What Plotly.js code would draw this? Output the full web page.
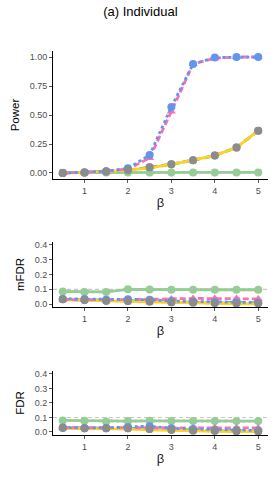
<!DOCTYPE html>
<html><head><meta charset="utf-8">
<script src="https://cdn.plot.ly/plotly-3.0.1.min.js"></script>
<style>html,body{margin:0;padding:0;background:#fff}#c{width:280px;height:480px}</style>
</head><body><div id="c"></div>
<script>
const beta = [0.5,1,1.5,2,2.5,3,3.5,4,4.5,5];
const xTicks = [1,2,3,4,5];
const powerTicks = [0,0.25,0.5,0.75,1];
const powerTickText = ["0.00","0.25","0.50","0.75","1.00"];
const rateTicks = [0,0.1,0.2,0.3,0.4];
const rateTickText = ["0.0","0.1","0.2","0.3","0.4"];
const target = 0.1;

// Power
const pinkP   = [0,0.005,0.015,0.035,0.13,0.53,0.94,0.99,1.0,1.0];
const blueP   = [0,0.005,0.015,0.04,0.155,0.57,0.94,0.995,1.0,1.0];
const yellowP = [0,0.005,0.012,0.025,0.045,0.075,0.11,0.15,0.22,0.365];
const cyanP   = [0,0.005,0.012,0.025,0.045,0.075,0.11,0.15,0.22,0.365];
const grayP   = [0,0.005,0.013,0.025,0.05,0.075,0.11,0.15,0.22,0.365];
const greenP  = [0.003,0.004,0.004,0.005,0.005,0.005,0.005,0.005,0.005,0.005];
const salmonP = [0.003,0.004,0.004,0.005,0.005,0.005,0.005,0.005,0.005,0.005];

// mFDR
const pinkM   = [0.03,0.032,0.03,0.03,0.03,0.035,0.038,0.038,0.038,0.035];
const blueM   = [0.035,0.035,0.03,0.032,0.03,0.02,0.018,0.015,0.012,0.01];
const yellowM = [0.028,0.025,0.02,0.018,0.012,0.008,0.005,0.004,0.002,0.001];
const cyanM   = [0.03,0.028,0.025,0.022,0.02,0.015,0.012,0.01,0.012,0.008];
const grayM   = [0.032,0.028,0.022,0.02,0.018,0.012,0.01,0.008,0.006,0.006];
const greenM  = [0.085,0.082,0.082,0.1,0.098,0.097,0.097,0.097,0.097,0.097];
const salmonM = [0.085,0.082,0.082,0.1,0.098,0.097,0.097,0.097,0.097,0.097];

// FDR
const pinkF   = [0.03,0.03,0.028,0.03,0.032,0.03,0.03,0.03,0.03,0.028];
const blueF   = [0.03,0.028,0.028,0.035,0.04,0.025,0.02,0.015,0.012,0.01];
const yellowF = [0.025,0.025,0.022,0.02,0.015,0.01,0.006,0.004,0.003,0.002];
const cyanF   = [0.028,0.026,0.025,0.025,0.022,0.015,0.012,0.01,0.008,0.006];
const grayF   = [0.03,0.026,0.025,0.025,0.02,0.015,0.01,0.008,0.006,0.005];
const greenF  = [0.08,0.078,0.072,0.075,0.077,0.076,0.075,0.075,0.075,0.075];
const salmonF = [0.08,0.078,0.072,0.075,0.077,0.076,0.075,0.075,0.075,0.075];

const styles = [
  {key:'salmon', color:'#F5A9A9', dash:'2px,4px', sym:'triangle-up', ms:7},
  {key:'green',  color:'#96CC96', dash:'solid', sym:'circle', ms:8},
  {key:'gray',   color:'#8C8C8C', dash:'7px,4px', sym:'circle', ms:8},
  {key:'cyan',   color:'#1EC3F0', dash:'5px,6px', sym:null, ms:0},
  {key:'yellow', color:'#FFD21E', dash:'solid', sym:'triangle-up', ms:6},
  {key:'pink',   color:'#FF6EB4', dash:'6px,3px', sym:'triangle-up', ms:8},
  {key:'blue',   color:'#6495ED', dash:'3px,3px', sym:'circle', ms:8}
];
const panels = [
  {xa:'x', ya:'y', d:{salmon:salmonP,green:greenP,cyan:cyanP,yellow:yellowP,gray:grayP,pink:pinkP,blue:blueP}},
  {xa:'x2', ya:'y2', d:{salmon:salmonM,green:greenM,cyan:cyanM,yellow:yellowM,gray:grayM,pink:pinkM,blue:blueM}},
  {xa:'x3', ya:'y3', d:{salmon:salmonF,green:greenF,cyan:cyanF,yellow:yellowF,gray:grayF,pink:pinkF,blue:blueF}}
];
const traces = [];
panels.forEach(p => {
  styles.forEach(s => {
    traces.push({
      x: beta, y: p.d[s.key], xaxis: p.xa, yaxis: p.ya,
      type:'scatter', mode: s.sym ? 'lines+markers' : 'lines',
      line:{color:s.color, width:2.8, dash:s.dash},
      marker:{color:s.color, size:s.ms || 1, symbol:s.sym || 'circle'},
      showlegend:false, hoverinfo:'skip'
    });
  });
  traces.push({
    x: beta, y: p.d.gray, xaxis: p.xa, yaxis: p.ya, type:'scatter', mode:'markers',
    marker:{color:'#8C8C8C', size:8, symbol:'circle'}, showlegend:false, hoverinfo:'skip'
  });
});

const font = {family:'Liberation Sans, Arial, sans-serif'};
function xax(anchor){
  return {anchor:anchor, range:[0.275,5.225], tickvals:xTicks, ticks:'outside', ticklen:3, tickwidth:0.8,
    tickcolor:'#333', showline:true, linecolor:'#000', linewidth:1, showgrid:false, zeroline:false,
    tickfont:{size:9, color:'#4d4d4d', family:font.family},
    title:{text:'β', font:{size:13, color:'#222', family:font.family}, standoff:3}};
}
function yax(anchor, dom, range, tv, tt, title){
  return {anchor:anchor, domain:dom, range:range, tickvals:tv, ticktext:tt, ticks:'outside', ticklen:3, tickwidth:0.8,
    tickcolor:'#333', showline:true, linecolor:'#000', linewidth:1, showgrid:false, zeroline:false,
    tickfont:{size:9, color:'#4d4d4d', family:font.family},
    title:{text:title, font:{size:11.5, color:'#000', family:font.family}, standoff:7}};
}
const layout = {
  width:280, height:480, margin:{l:52.5, r:12.2, t:0, b:0},
  paper_bgcolor:'#fff', plot_bgcolor:'#fff', font:font,
  title:{text:'(a) Individual', x:(140-52.5)/(280-52.5-12.2), xanchor:'center', y:1-11/480, yanchor:'middle', xref:'paper',
    font:{size:13, color:'#000', family:font.family}},
  xaxis: xax('y'), xaxis2: xax('y2'), xaxis3: xax('y3'),
  yaxis: yax('x', [0.6275,0.8933], [-0.05,1.05], powerTicks, powerTickText, 'Power'),
  yaxis2: yax('x2', [0.3604,0.4958], [-0.02,0.42], rateTicks, rateTickText, 'mFDR'),
  yaxis3: yax('x3', [0.0940,0.2269], [-0.02,0.42], rateTicks, rateTickText, 'FDR'),
  shapes:[
    {type:'line', xref:'x2 domain', x0:0, x1:1, yref:'y2', y0:target, y1:target, line:{color:'#C8C8C8', width:1.2, dash:'4px,3px'}, layer:'below'},
    {type:'line', xref:'x3 domain', x0:0, x1:1, yref:'y3', y0:target, y1:target, line:{color:'#C8C8C8', width:1.2, dash:'4px,3px'}, layer:'below'}
  ]
};
Plotly.newPlot('c', traces, layout, {staticPlot:true, displayModeBar:false});
</script></body></html>
